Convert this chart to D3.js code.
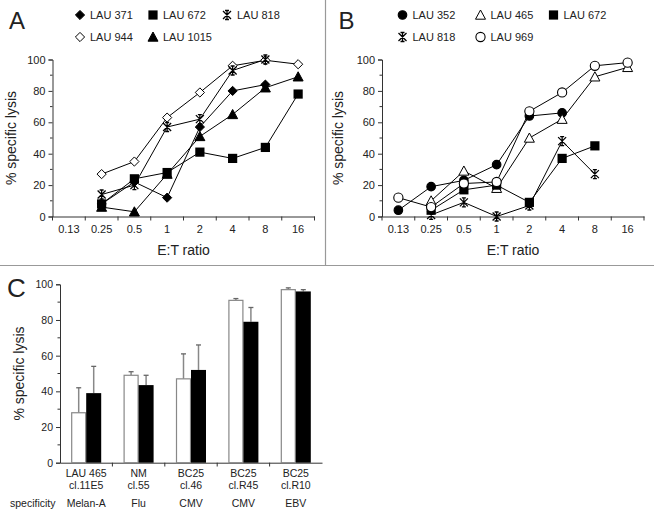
<!DOCTYPE html>
<html><head><meta charset="utf-8">
<script src="https://cdn.jsdelivr.net/npm/d3@7"></script>
<style>
html,body{margin:0;padding:0;background:#fff;}
text{font-family:"Liberation Sans",Arial,sans-serif;fill:#222;}
</style></head>
<body><svg id="c" width="654" height="515"></svg>
<script>
// ---------- data ----------
const ratios = ["0.13","0.25","0.5","1","2","4","8","16"];
const yTicks = [0,20,40,60,80,100];
const yMinor = [10,30,50,70,90];

// Panel A series (value per ratio, null = not measured)
const lau371A  = [null, 8, 22, 12, 57, 80, 84, null];
const lau672A  = [null, 8, 24, 28, 41, 37, 44, 78];
const lau818A  = [null, 14, 20, 57, 62, 93, 100, null];
const lau944A  = [null, 27, 35, 63, 79, 96, 99.5, 97];
const lau1015A = [null, 6, 3, 27, 51, 65, 82, 89];

// Panel B series
const lau352B = [4, 19, 23, 33, 64, 66, null, null];
const lau465B = [null, 10, 29, 18, 50, 62, 89, 95];
const lau672B = [null, 4, 17, 20, 9, 37, 45, null];
const lau818B = [null, 1, 9, 0, 7, 48, 27, null];
const lau969B = [12, 6, 21, 22, 67, 79, 96, 98];

// Panel C
const clones = [["LAU 465","cl.11E5"],["NM","cl.55"],["BC25","cl.46"],["BC25","cl.R45"],["BC25","cl.R10"]];
const specificity = ["Melan-A","Flu","CMV","CMV","EBV"];
const whiteVals = [28, 49, 47, 91, 97];
const whiteErr  = [14, 2, 14, 1, 1];
const blackVals = [39, 43.5, 52, 79, 96];
const blackErr  = [15, 5.5, 14, 8, 1];

const svg = d3.select("#c");

// frame lines
svg.append("line").attr("x1",0).attr("x2",654).attr("y1",265.5).attr("y2",265.5).attr("stroke","#999").attr("stroke-width",1.2);
svg.append("line").attr("x1",325.5).attr("x2",325.5).attr("y1",0).attr("y2",265.5).attr("stroke","#999").attr("stroke-width",1.2);

// marker drawer
function marker(g, type, x, y){
  const s = g.append("g").attr("transform",`translate(${x},${y})`);
  if(type==="diamond"||type==="odiamond"){
    s.append("path").attr("d","M0,-4.6L4.6,0L0,4.6L-4.6,0Z")
      .attr("fill",type==="diamond"?"#000":"#fff").attr("stroke","#000").attr("stroke-width",1);
  } else if(type==="square"){
    s.append("rect").attr("x",-4.6).attr("y",-4.6).attr("width",9.2).attr("height",9.2).attr("fill","#000");
  } else if(type==="triangle"||type==="otriangle"){
    s.append("path").attr("d","M0,-5L5,4.2L-5,4.2Z")
      .attr("fill",type==="triangle"?"#000":"#fff").attr("stroke","#000").attr("stroke-width",1);
  } else if(type==="circle"||type==="ocircle"){
    s.append("circle").attr("r",type==="circle"?4.3:4.6)
      .attr("fill",type==="circle"?"#000":"#fff").attr("stroke","#000").attr("stroke-width",1.1);
  } else if(type==="star"){
    s.append("path").attr("d","M-4,-4L4,4M-4,4L4,-4M0,-4.5L0,4.5M-2,-4.5L2,-4.5M-2,4.5L2,4.5")
      .attr("stroke","#000").attr("stroke-width",1.3).attr("fill","none");
  }
}

function linePanel(ox, series, legendRows, letter, ylabX){
  const g = svg.append("g");
  const x = d3.scaleBand().domain(ratios).range([ox+52.5, ox+314.5]).padding(0);
  const y = d3.scaleLinear().domain([0,100]).range([216.5, 59.5]);

  // y axis
  const ya = g.append("g").attr("transform",`translate(${ox+52.5},0)`)
    .call(d3.axisLeft(y).tickValues(yTicks).tickSize(4).tickPadding(3));
  ya.selectAll("text").style("font-size","11px").attr("fill","#222");
  ya.select(".domain").attr("stroke","#333");
  ya.selectAll(".tick line").attr("stroke","#333");
  g.selectAll(".yminor").data(yMinor).enter().append("line")
    .attr("x1",ox+52.5).attr("x2",ox+50).attr("y1",d=>y(d)).attr("y2",d=>y(d)).attr("stroke","#333");

  // x axis
  const xa = g.append("g").attr("transform","translate(0,216.5)")
    .call(d3.axisBottom(x).tickSize(0).tickPadding(9).tickSizeOuter(0));
  xa.selectAll("text").style("font-size","11px").attr("fill","#222");
  xa.select(".domain").attr("stroke","#333");
  const bounds = ratios.map(r=>x(r)).concat([x.range()[1]]);
  g.selectAll(".xb").data(bounds).enter().append("line")
    .attr("x1",d=>d).attr("x2",d=>d).attr("y1",216.5).attr("y2",220.5).attr("stroke","#333");

  // axis labels
  g.append("text").attr("x",(x.range()[0]+x.range()[1])/2).attr("y",255)
    .attr("text-anchor","middle").style("font-size","14px").text("E:T ratio");
  g.append("text").attr("transform",`translate(${ylabX},${(59.5+216.5)/2}) rotate(-90)`)
    .attr("text-anchor","middle").style("font-size","14px").text("% specific lysis");
  g.append("text").attr("x",ox+9).attr("y",29).style("font-size","24px").text(letter);

  // lines + markers
  series.forEach(s=>{
    const pts = s.vals.map((v,i)=>({r:ratios[i],v})).filter(d=>d.v!==null);
    const ln = d3.line().x(d=>x(d.r)+x.bandwidth()/2).y(d=>y(d.v));
    g.append("path").attr("d",ln(pts)).attr("fill","none").attr("stroke","#000").attr("stroke-width",1);
  });
  series.forEach(s=>{
    s.vals.forEach((v,i)=>{ if(v!==null) marker(g, s.type, x(ratios[i])+x.bandwidth()/2, y(v)); });
  });

  // legend
  legendRows.forEach((row,ri)=>{
    row.forEach(item=>{
      marker(g, item.type, ox+item.mx, 15+ri*22);
      g.append("text").attr("x",ox+item.mx+10).attr("y",15+ri*22+4).style("font-size","11px").text(item.name);
    });
  });
}

linePanel(0, [
  {vals:lau944A, type:"odiamond"},
  {vals:lau371A, type:"diamond"},
  {vals:lau672A, type:"square"},
  {vals:lau818A, type:"star"},
  {vals:lau1015A, type:"triangle"}
], [
  [{name:"LAU 371",type:"diamond",mx:80},{name:"LAU 672",type:"square",mx:153},{name:"LAU 818",type:"star",mx:227}],
  [{name:"LAU 944",type:"odiamond",mx:80},{name:"LAU 1015",type:"triangle",mx:153}]
], "A", 15.5);

linePanel(329.5, [
  {vals:lau352B, type:"circle"},
  {vals:lau465B, type:"otriangle"},
  {vals:lau672B, type:"square"},
  {vals:lau818B, type:"star"},
  {vals:lau969B, type:"ocircle"}
], [
  [{name:"LAU 352",type:"circle",mx:73},{name:"LAU 465",type:"otriangle",mx:151},{name:"LAU 672",type:"square",mx:224}],
  [{name:"LAU 818",type:"star",mx:73},{name:"LAU 969",type:"ocircle",mx:151}]
], "B", 342.5);

// ---------- Panel C ----------
(function(){
  const g = svg.append("g");
  const idx = clones.map((c,i)=>String(i));
  const x = d3.scaleBand().domain(idx).range([60, 322]).padding(0);
  const sub = d3.scaleBand().domain(["w","b"]).range([0, 30]);
  const y = d3.scaleLinear().domain([0,100]).range([462.7, 284.3]);

  const ya = g.append("g").attr("transform","translate(60,0)")
    .call(d3.axisLeft(y).tickValues(yTicks).tickSize(4).tickPadding(3));
  ya.selectAll("text").style("font-size","10.5px").attr("fill","#222");
  ya.select(".domain").attr("stroke","#333");
  ya.selectAll(".tick line").attr("stroke","#333");
  g.selectAll(".yminor").data(yMinor).enter().append("line")
    .attr("x1",60).attr("x2",57.5).attr("y1",d=>y(d)).attr("y2",d=>y(d)).attr("stroke","#333");

  const xa = g.append("g").attr("transform","translate(0,462.7)")
    .call(d3.axisBottom(x).tickSize(0).tickFormat("").tickSizeOuter(0));
  xa.select(".domain").attr("stroke","#333");
  const bounds = idx.slice(1).map(d=>x(d));
  g.selectAll(".xb").data(bounds).enter().append("line")
    .attr("x1",d=>d).attr("x2",d=>d).attr("y1",462.7).attr("y2",466.5).attr("stroke","#333");

  const off = (x.bandwidth()-30)/2;
  // error bars (up only)
  function err(vals, errs, key){
    vals.forEach((v,i)=>{
      const cx = x(String(i))+off+sub(key)+sub.bandwidth()/2;
      g.append("line").attr("x1",cx).attr("x2",cx).attr("y1",y(v)).attr("y2",y(v+errs[i])).attr("stroke","#888").attr("stroke-width",1.5);
      g.append("line").attr("x1",cx-2.5).attr("x2",cx+2.5).attr("y1",y(v+errs[i])).attr("y2",y(v+errs[i])).attr("stroke","#666").attr("stroke-width",1.3);
    });
  }
  err(whiteVals, whiteErr, "w");
  err(blackVals, blackErr, "b");
  g.selectAll(".wb").data(whiteVals).enter().append("rect")
    .attr("x",(d,i)=>x(String(i))+off+sub("w")+0.5).attr("width",sub.bandwidth()-1)
    .attr("y",d=>y(d)).attr("height",d=>y(0)-y(d))
    .attr("fill","#fff").attr("stroke","#888").attr("stroke-width",1.2);
  g.selectAll(".bb").data(blackVals).enter().append("rect")
    .attr("x",(d,i)=>x(String(i))+off+sub("b")).attr("width",sub.bandwidth())
    .attr("y",d=>y(d)).attr("height",d=>y(0)-y(d)).attr("fill","#000");

  clones.forEach((c,i)=>{
    const cx = x(String(i))+x.bandwidth()/2;
    g.append("text").attr("x",cx).attr("y",477).attr("text-anchor","middle").style("font-size","10.5px").text(c[0]);
    g.append("text").attr("x",cx).attr("y",489).attr("text-anchor","middle").style("font-size","10.5px").text(c[1]);
    g.append("text").attr("x",cx).attr("y",507).attr("text-anchor","middle").style("font-size","10.5px").text(specificity[i]);
  });
  g.append("text").attr("x",10).attr("y",507).style("font-size","10.5px").text("specificity");
  g.append("text").attr("transform",`translate(24,${(284.3+462.7)/2}) rotate(-90)`)
    .attr("text-anchor","middle").style("font-size","14px").text("% specific lysis");
  g.append("text").attr("x",7).attr("y",297).style("font-size","26px").text("C");
})();
</script></body></html>
